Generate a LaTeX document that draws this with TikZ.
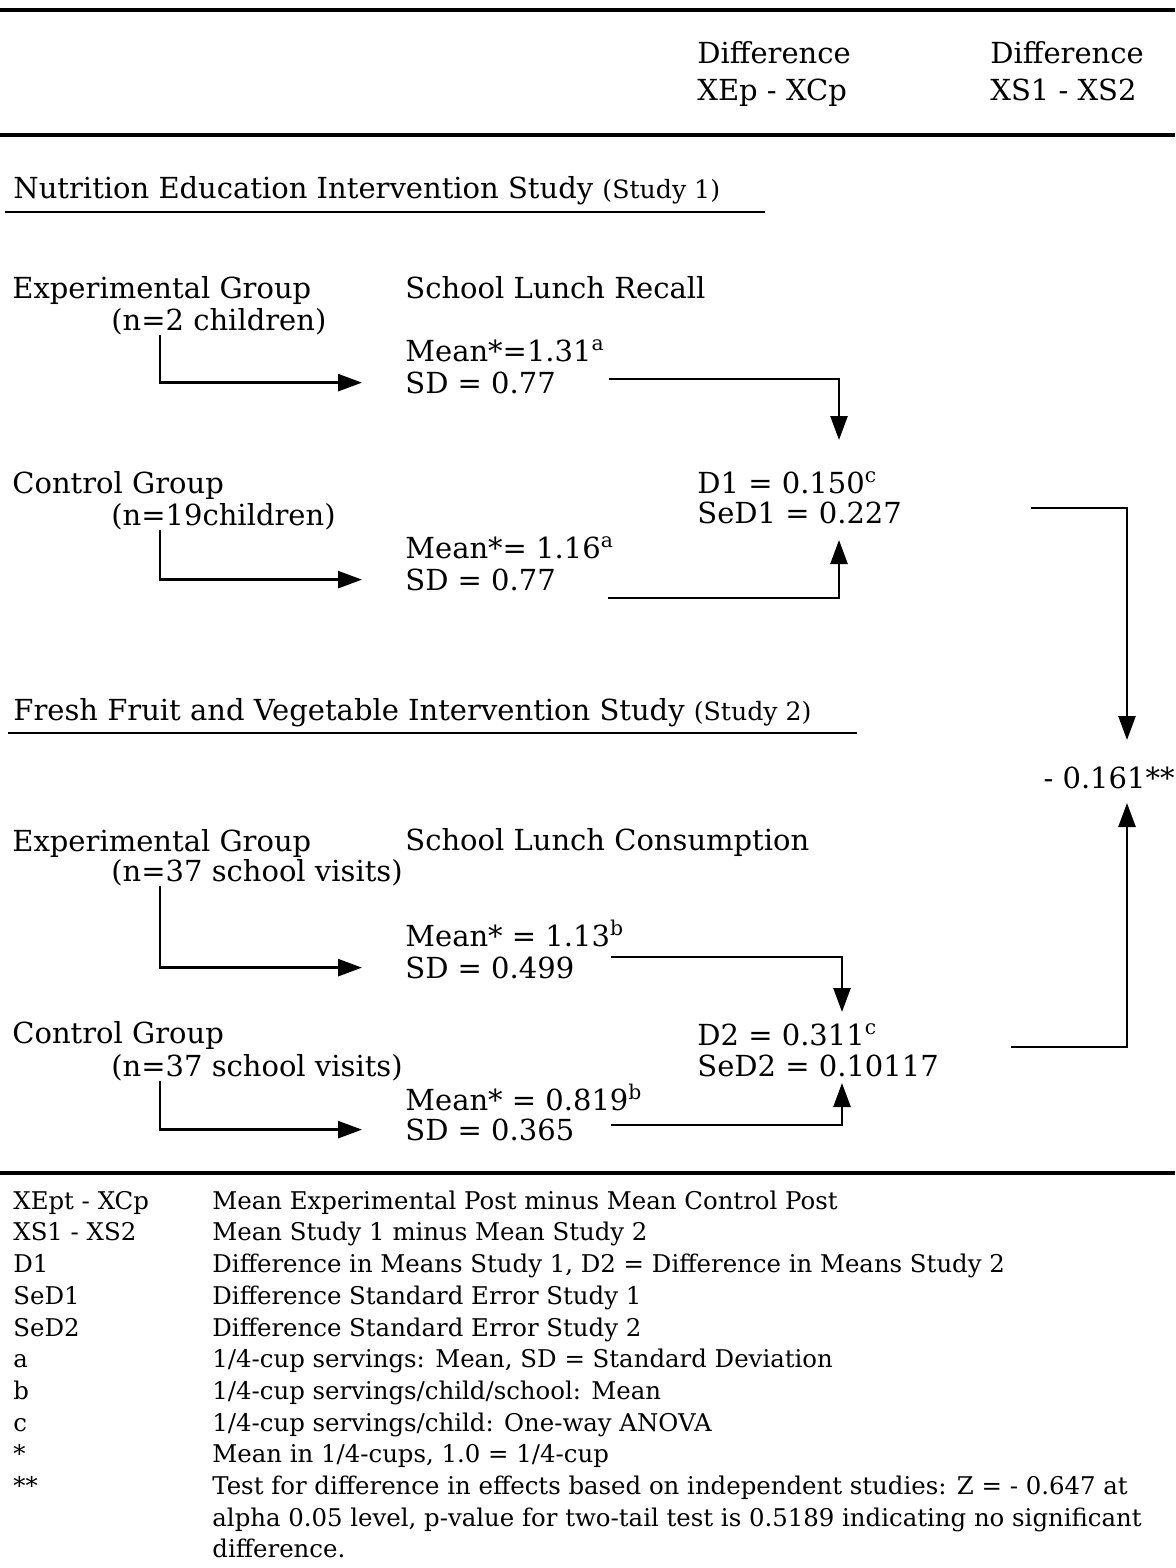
\documentclass[tikz,border=0pt]{standalone}
\usepackage{fontspec}
\setmainfont{DejaVu Serif}
\usetikzlibrary{arrows.meta}

\newcommand\bodyfont{\fontsize{14.5}{16}\selectfont}
\newcommand\legfont{\fontsize{12.2}{15}\selectfont}
\newcommand\tagfont{\fontsize{12.6}{13}\selectfont}

\begin{document}
\begin{tikzpicture}[x=0.5pt, y=-0.5pt]

%---- STYLES ----
\tikzset{
    txt/.style={anchor=mid west, inner sep=0pt, yshift=-1.5pt, font=\bodyfont},
    note/.style={anchor=mid west, inner sep=0pt, yshift=-1pt, font=\legfont},
    rule/.style={line width=1.8pt},
    uline/.style={line width=1.3pt},
    link/.style={line width=1.3pt, -{Triangle[length=12pt, width=8.5pt]}},
}

\useasboundingbox (0,0) rectangle (1175,1568);

% stem column of the group arrows
\coordinate (stem) at (160,0);

%---- HEADER ----
\draw[rule] (0,10) -- (1175,10);
\node[txt] (hdA)    at (697,55) {Difference};
\node[txt] (hdAsub) at (697,92) {XEp - XCp};
\node[txt] (hdB)    at (990,55) {Difference};
\node[txt] (hdBsub) at (990,92) {XS1 - XS2};
\draw[rule] (0,135) -- (1175,135);

%---- STUDY 1 ----
\node[txt] (study1) at (13,190) {Nutrition Education Intervention Study {\tagfont (Study 1)}};
\draw[uline] (5,212) -- (765,212);

\node[txt] (exp1)   at (12,290)  {Experimental Group};
\node[txt] (exp1n)  at (111,322) {(n=2 children)};
\node[txt] (recall) at (405,290) {School Lunch Recall};
\node[txt] (mean1)  at (405,353) {Mean*=1.31\textsuperscript{a}};
\node[txt] (sd1)    at (405,385) {SD = 0.77};

\node[txt] (ctl1)   at (12,485)  {Control Group};
\node[txt] (ctl1n)  at (111,517) {(n=19children)};
\node[txt] (mean2)  at (405,550) {Mean*= 1.16\textsuperscript{a}};
\node[txt] (sd2)    at (405,582) {SD = 0.77};

\node[txt] (d1)     at (697,485) {D1 = 0.150\textsuperscript{c}};
\node[txt] (sed1)   at (697,515) {SeD1 = 0.227};

% join points
\coordinate (o1)  at (609,379);
\coordinate (in1) at (839,440);
\coordinate (o2)  at (608,598);
\coordinate (in2) at (839,540);

\draw[link] (exp1n.south -| stem) |- ([xshift=-21.5pt]sd1.west);
\draw[link] (ctl1n.south -| stem) |- ([xshift=-21.5pt]sd2.west);
\draw[link] (o1) -| (in1);
\draw[link] (o2) -| (in2);

%---- STUDY 2 ----
\node[txt] (study2) at (13,712) {Fresh Fruit and Vegetable Intervention Study {\tagfont (Study 2)}};
\draw[uline] (8,733) -- (857,733);

\node[txt] (exp2)   at (12,843)   {Experimental Group};
\node[txt] (exp2n)  at (111,873)  {(n=37 school visits)};
\node[txt] (consum) at (405,842)  {School Lunch Consumption};
\node[txt] (mean3)  at (405,938)  {Mean* = 1.13\textsuperscript{b}};
\node[txt] (sd3)    at (405,970)  {SD = 0.499};

\node[txt] (ctl2)   at (12,1035)  {Control Group};
\node[txt] (ctl2n)  at (111,1068) {(n=37 school visits)};
\node[txt] (mean4)  at (405,1102) {Mean* = 0.819\textsuperscript{b}};
\node[txt] (sd4)    at (405,1132) {SD = 0.365};

\node[txt] (d2)     at (697,1037) {D2 = 0.311\textsuperscript{c}};
\node[txt] (sed2)   at (697,1068) {SeD2 = 0.10117};

% join points
\coordinate (o3)  at (611,957);
\coordinate (in3) at (842,1012);
\coordinate (o4)  at (611,1125);
\coordinate (in4) at (842,1083);

\draw[link] (exp2n.south -| stem) |- ([xshift=-21.5pt]sd3.west);
\draw[link] (ctl2n.south -| stem) |- ([xshift=-21.5pt]sd4.west);
\draw[link] (o3) -| (in3);
\draw[link] (o4) -| (in4);

%---- DIFFERENCE OF STUDIES ----
\node[txt, anchor=mid east] (total) at (1175,780) {- 0.161**};

\coordinate (r1)   at (1031,508);
\coordinate (rtop) at (1127,740);
\coordinate (r2)   at (1011,1047);
\coordinate (rbot) at (1127,803);

\draw[link] (r1) -| (rtop);
\draw[link] (r2) -| (rbot);

%---- LEGEND ----
\draw[rule] (0,1173) -- (1175,1173);

\foreach \key/\desc [count=\i from 0] in {
    {XEpt - XCp}/{Mean Experimental Post minus Mean Control Post},
    {XS1 - XS2}/{Mean Study 1 minus Mean Study 2},
    {D1}/{Difference in Means Study 1, D2 = Difference in Means Study 2},
    {SeD1}/{Difference Standard Error Study 1},
    {SeD2}/{Difference Standard Error Study 2},
    {a}/{1/4-cup servings: Mean, SD = Standard Deviation},
    {b}/{1/4-cup servings/child/school: Mean},
    {c}/{1/4-cup servings/child: One-way ANOVA},
    {*}/{Mean in 1/4-cups, 1.0 = 1/4-cup},
    {**}/{Test for difference in effects based on independent studies: Z = - 0.647 at}
}{
    \node[note] (key\i)  at (13,{1202+\i*31.7})  {\key};
    \node[note] (desc\i) at (212,{1202+\i*31.7}) {\desc};
}
\node[note] (desc10) at (212,1519) {alpha 0.05 level, p-value for two-tail test is 0.5189 indicating no significant};
\node[note] (desc11) at (212,1550) {difference.};

\end{tikzpicture}
\end{document}
